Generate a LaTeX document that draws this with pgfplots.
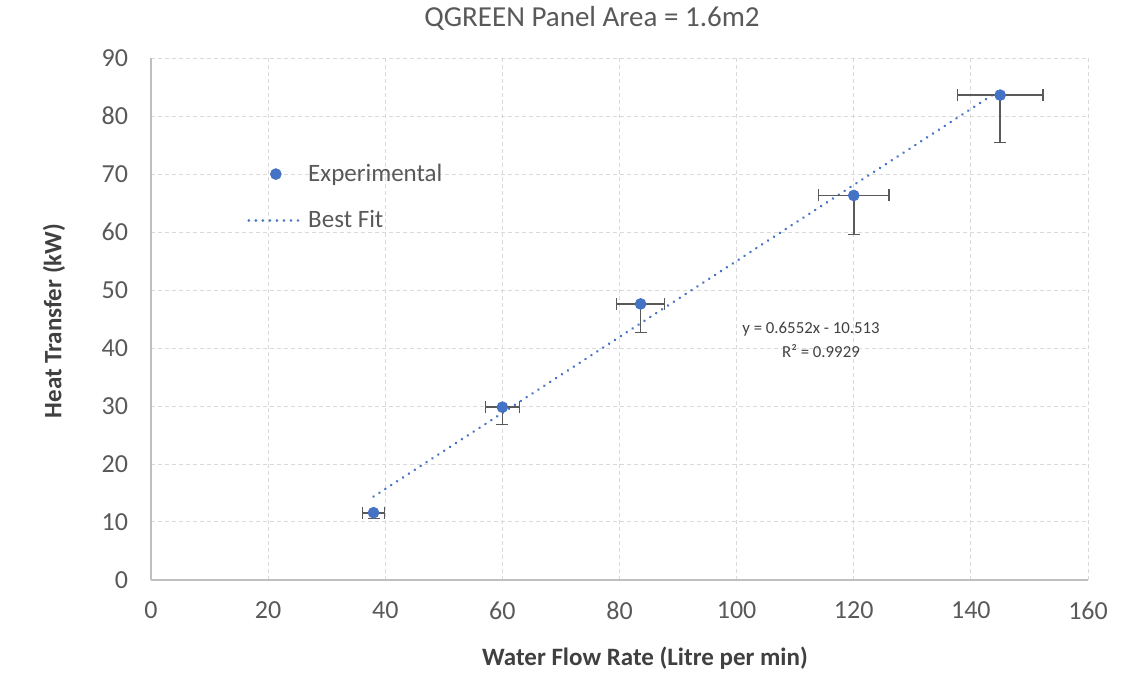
\documentclass[border=0pt]{standalone}
\usepackage{pgfplots}
\pgfplotsset{compat=1.18}
\usepackage{fontspec}
\setmainfont{Carlito}
\definecolor{blue1}{HTML}{4472C4}
\definecolor{errgray}{HTML}{595959}
\definecolor{gridgray}{HTML}{D9D9D9}
\definecolor{axgray}{HTML}{BFBFBF}
\definecolor{txtgray}{HTML}{595959}
\definecolor{lblgray}{HTML}{404040}
\begin{document}
\begin{tikzpicture}
\useasboundingbox (-75.5pt,-49pt) rectangle (496pt,290pt);
\begin{axis}[
  at={(0,0)}, anchor=origin,
  scale only axis,
  width=468.5pt, height=261pt,
  xmin=0, xmax=160, ymin=0, ymax=90,
  xtick={0,20,...,160}, ytick={0,10,...,90},
  axis lines=left,
  axis line style={-, draw=axgray, line width=0.6pt},
  major tick length=0pt,
  grid=major,
  major grid style={draw=gridgray, line width=0.5pt, dash pattern=on 2pt off 1.5pt},
  /pgf/number format/assume math mode=true,
  tick label style={font=\fontsize{13}{15}\selectfont, text=txtgray},
  xticklabel style={yshift=-7.5pt},
  yticklabel style={xshift=-8pt},
  clip=false,
  legend style={at={(axis cs:16.4,72.5)}, anchor=north west, draw=none, fill=none,
    font=\fontsize{12.5}{14}\selectfont, text=txtgray, row sep=9pt, inner sep=0pt},
  legend cell align=left,
  reverse legend,
]
\addplot[blue1, line width=1.4pt, line cap=round, dash pattern=on 0.01pt off 3.5pt,
  legend image code/.code={\draw[blue1, line width=1.4pt, line cap=round, dash pattern=on 0.01pt off 3.5pt] (0pt,0pt) -- (27pt,0pt);}]
  coordinates {(38,14.3846) (145,84.491)};
\addplot[only marks, mark=*, mark size=2.7pt, color=blue1,
  legend image code/.code={\fill[blue1] (13.5pt,0pt) circle (2.7pt); \path (27pt,0pt);},
  error bars/.cd, x dir=both, x explicit, y dir=minus, y explicit,
  error bar style={color=errgray, line width=0.8pt},
  error mark options={rotate=90, color=errgray, mark size=3pt, line width=0.8pt}]
  table[x=x, y=y, x error=ex, y error minus=ey] {
x y ex ey
38 11.6 1.9 1.0
60 29.8 2.9 3.0
83.6 47.6 4.1 4.9
120 66.3 6.0 6.7
145 83.6 7.3 8.2
};
\legend{Best Fit, Experimental}
\end{axis}
\node[font=\fontsize{14.5}{17}\selectfont, text=txtgray] at (220.5pt,281pt) {QGREEN Panel Area = 1.6m2};
\node[font=\bfseries\fontsize{12.5}{14}\selectfont, text=lblgray] at (247pt,-39pt) {Water Flow Rate (Litre per min)};
\node[font=\bfseries\fontsize{12.5}{14}\selectfont, text=lblgray, rotate=90] at (-48.5pt,129.5pt) {Heat Transfer (kW)};
\node[font=\fontsize{8.4}{10}\selectfont, text=lblgray] at (330pt,125.5pt) {y = 0.6552x - 10.513};
\node[font=\fontsize{8.4}{10}\selectfont, text=lblgray] at (335pt,114.5pt) {R² = 0.9929};
\end{tikzpicture}
\end{document}
